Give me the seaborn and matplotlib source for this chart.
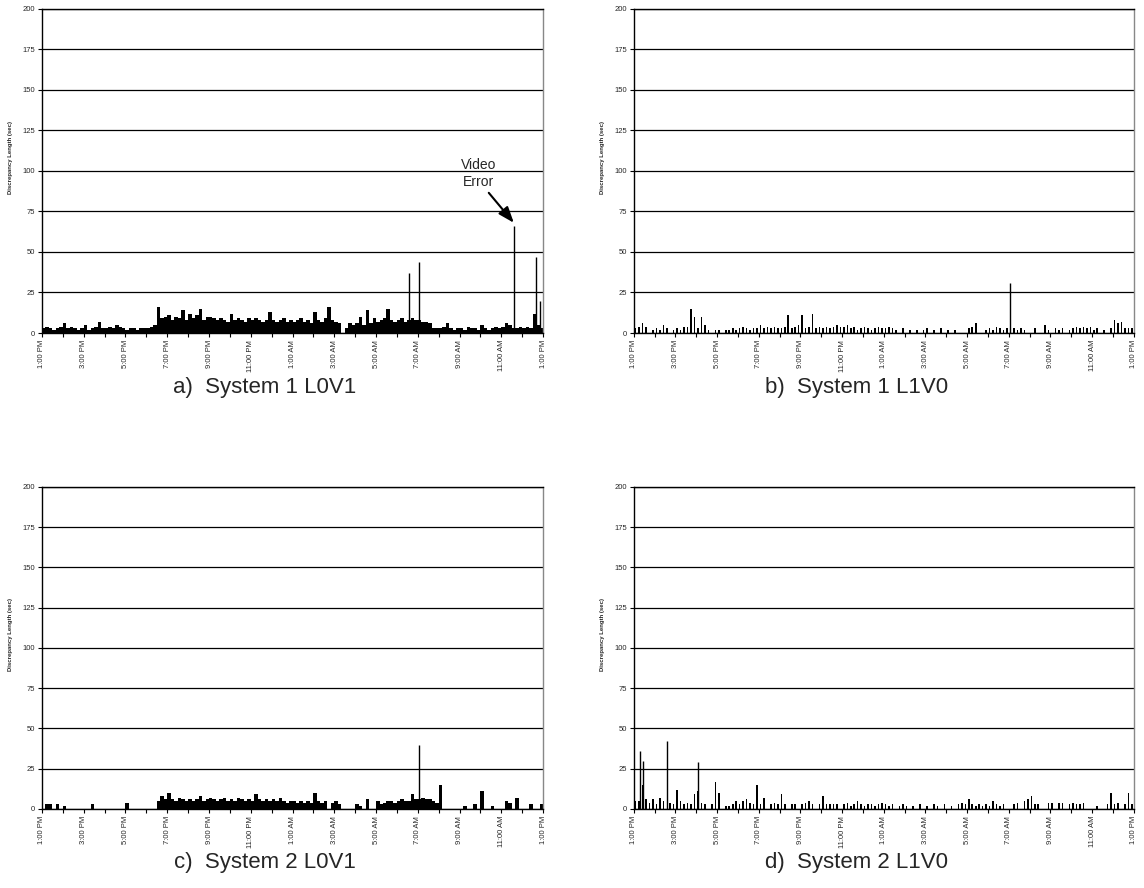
import matplotlib
matplotlib.use("Agg")
import matplotlib.pyplot as plt
import numpy as np
import seaborn as sns

# Discrepancy lengths (sec) in 10-minute bins, 1:00 PM -> 1:00 PM (6 bins per hour)
sys1_l0v1 = [
    3, 4, 3, 2, 3, 4,
    6, 3, 4, 3, 2, 3,
    5, 2, 3, 4, 7, 3,
    3, 4, 3, 5, 4, 3,
    2, 3, 3, 2, 3, 3,
    3, 4, 5, 16, 9, 10,
    11, 8, 10, 9, 14, 8,
    12, 9, 11, 15, 8, 10,
    10, 9, 8, 9, 8, 7,
    12, 8, 9, 8, 7, 9,
    8, 9, 8, 7, 8, 13,
    8, 7, 8, 9, 7, 8,
    7, 8, 9, 7, 8, 6,
    13, 8, 7, 9, 16, 8,
    7, 6, 0, 3, 6, 5,
    6, 10, 5, 14, 6, 9,
    7, 8, 9, 15, 8, 7,
    8, 9, 7, 8, 9, 8,
    8, 7, 7, 6, 3, 3,
    3, 4, 6, 3, 2, 3,
    3, 2, 4, 3, 3, 2,
    5, 3, 2, 3, 4, 3,
    4, 6, 5, 3, 3, 4,
    3, 4, 3, 12, 5, 3,
]
sys1_l1v0 = [
    3, 4, 6, 4, 0, 2,
    3, 2, 5, 3, 0, 2,
    3, 2, 4, 4, 15, 10,
    3, 10, 5, 2, 0, 2,
    2, 0, 2, 2, 3, 2,
    3, 4, 3, 2, 3, 3,
    5, 3, 4, 3, 4, 3,
    3, 4, 11, 3, 4, 5,
    11, 3, 4, 12, 3, 4,
    3, 4, 3, 4, 5, 4,
    4, 5, 3, 4, 2, 3,
    4, 3, 2, 3, 4, 3,
    3, 4, 3, 2, 0, 3,
    0, 2, 0, 2, 0, 2,
    3, 0, 2, 0, 3, 0,
    2, 0, 2, 0, 0, 0,
    3, 4, 6, 0, 0, 2,
    3, 2, 4, 3, 2, 3,
    8, 3, 2, 3, 2, 0,
    0, 3, 0, 0, 5, 2,
    0, 3, 2, 3, 0, 2,
    3, 4, 3, 4, 3, 4,
    2, 3, 0, 2, 0, 3,
    8, 6, 7, 3, 3, 3,
]
sys2_l0v1 = [
    0, 3, 3, 0, 3, 0,
    2, 0, 0, 0, 0, 0,
    0, 0, 3, 0, 0, 0,
    0, 0, 0, 0, 0, 0,
    4, 0, 0, 0, 0, 0,
    0, 0, 0, 5, 8, 6,
    10, 6, 5, 7, 6, 5,
    6, 5, 6, 8, 5, 6,
    7, 6, 5, 6, 7, 5,
    6, 5, 7, 6, 5, 6,
    5, 9, 6, 5, 6, 5,
    6, 5, 7, 5, 4, 5,
    5, 4, 5, 4, 5, 4,
    10, 5, 4, 5, 0, 4,
    5, 3, 0, 0, 0, 0,
    3, 2, 0, 6, 0, 0,
    5, 3, 4, 5, 5, 4,
    5, 6, 5, 5, 9, 6,
    6, 7, 6, 6, 5, 4,
    15, 0, 0, 0, 0, 0,
    0, 2, 0, 0, 3, 0,
    11, 0, 0, 2, 0, 0,
    0, 5, 4, 0, 7, 0,
    0, 0, 3, 0, 0, 3,
]
sys2_l1v0 = [
    5, 5, 15, 6, 4, 6,
    3, 7, 5, 0, 4, 3,
    12, 5, 3, 4, 3, 9,
    11, 4, 3, 0, 3, 17,
    10, 0, 2, 2, 3, 5,
    3, 5, 6, 4, 3, 15,
    3, 7, 0, 3, 4, 3,
    9, 3, 0, 3, 3, 0,
    3, 4, 5, 3, 0, 3,
    8, 3, 3, 3, 3, 0,
    3, 4, 2, 3, 5, 3,
    2, 3, 3, 2, 3, 4,
    3, 2, 3, 0, 2, 3,
    2, 0, 2, 0, 3, 0,
    2, 0, 3, 2, 0, 3,
    0, 2, 0, 3, 4, 3,
    6, 3, 2, 3, 2, 3,
    2, 5, 3, 2, 3, 0,
    0, 3, 4, 0, 5, 6,
    8, 3, 3, 0, 0, 4,
    4, 0, 4, 4, 0, 3,
    4, 3, 3, 4, 0, 0,
    0, 2, 0, 0, 3, 10,
    3, 4, 0, 3, 10, 3,
]

# Isolated tall spikes: (hours after 1:00 PM, seconds)
spikes_a = [(17.6, 37), (18.05, 44), (22.62, 66), (23.67, 47), (23.86, 20)]
spikes_b = [(18.05, 31)]
spikes_c = [(18.05, 40)]
spikes_d = [(0.3, 36), (0.45, 30), (1.6, 42), (3.1, 29)]

captions = ["a)  System 1 L0V1", "b)  System 1 L1V0",
            "c)  System 2 L0V1", "d)  System 2 L1V0"]
hour_labels = ["1:00 PM", "3:00 PM", "5:00 PM", "7:00 PM", "9:00 PM", "11:00 PM",
               "1:00 AM", "3:00 AM", "5:00 AM", "7:00 AM", "9:00 AM", "11:00 AM",
               "1:00 PM"]

sns.set_theme(style="white")
plt.rcParams["font.family"] = ["Liberation Sans", "DejaVu Sans"]

fig = plt.figure(figsize=(11.44, 8.88), dpi=100)

panels = [
    (sys1_l0v1, spikes_a, [0.0367, 0.625, 0.438, 0.365], 1.0),
    (sys1_l1v0, spikes_b, [0.554, 0.625, 0.437, 0.365], 0.45),
    (sys2_l0v1, spikes_c, [0.0367, 0.089, 0.438, 0.3626], 1.0),
    (sys2_l1v0, spikes_d, [0.554, 0.089, 0.437, 0.3626], 0.45),
]

for (values, spikes, rect, shrink), caption in zip(panels, captions):
    ax = fig.add_axes(rect)
    centers = np.arange(len(values)) / 6 + 1 / 12
    sns.histplot(x=centers, weights=values, bins=len(values), binrange=(0, 24),
                 shrink=shrink, color="black", alpha=1, linewidth=0, ax=ax)
    sx = [s[0] for s in spikes]
    sy = [s[1] for s in spikes]
    ax.vlines(sx, 0, sy, color="black", linewidth=1)

    ax.set_xlim(0, 24)
    ax.set_ylim(0, 200)
    ax.set_yticks(range(0, 201, 25))
    ax.yaxis.grid(True, color="black", linewidth=0.9)
    ax.set_axisbelow(True)
    ax.set_xticks(range(0, 25, 2))
    ax.set_xticks(range(0, 25, 1), minor=True)
    ax.set_xticklabels(hour_labels, rotation=90)
    ax.tick_params(axis="both", which="both", direction="out", length=3,
                   width=0.8, color="black", labelsize=5.5, pad=2,
                   bottom=True, left=True)
    ax.set_ylabel("Discrepancy Length (sec)", fontsize=4.3, fontweight="bold")
    ax.yaxis.set_label_coords(-0.058, 0.543)
    ax.set_xlabel("")
    for side in ["left", "bottom", "top"]:
        ax.spines[side].set_color("black")
        ax.spines[side].set_linewidth(1)
    ax.spines["right"].set_color("#888888")
    ax.spines["right"].set_linewidth(1)
    ax.text(0.445, -0.135, caption, transform=ax.transAxes, fontsize=16,
            ha="center", va="top")

    if caption.startswith("a)"):
        ax.text(20.9, 98.5, "Video\nError", fontsize=10, ha="center",
                va="center", linespacing=1.3)
        ax.annotate("", xy=(22.6, 68), xytext=(21.4, 86.5),
                    arrowprops=dict(arrowstyle="-|>,head_length=0.8,head_width=0.3",
                                    color="black", lw=1.5, shrinkA=0, shrinkB=0))

fig.savefig("out.png", dpi=100)
